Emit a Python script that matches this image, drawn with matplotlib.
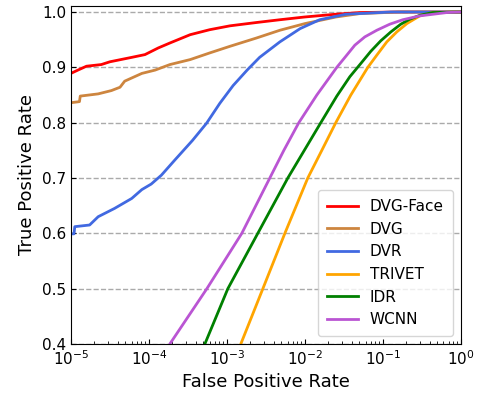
import matplotlib
matplotlib.use("Agg")
import matplotlib.pyplot as plt
import numpy as np

# ROC curves (log10 FPR, TPR)
dvgface_logfpr = [-5.0, -4.91, -4.80, -4.61, -4.50, -4.22, -4.05, -3.88, -3.73, -3.47, -3.22,
                  -2.96, -2.62, -2.32, -2.0, -1.6, -1.3, -0.8, 0.0]
dvgface_tpr = [0.889, 0.895, 0.902, 0.905, 0.910, 0.918, 0.923, 0.935, 0.944, 0.959, 0.968,
               0.975, 0.981, 0.986, 0.991, 0.996, 0.999, 1.0, 1.0]

dvg_logfpr = [-5.0, -4.89, -4.88, -4.65, -4.48, -4.37, -4.31, -4.09, -3.92, -3.73, -3.47, -3.22,
              -2.96, -2.62, -2.32, -2.0, -1.6, -1.3, -0.8, 0.0]
dvg_tpr = [0.836, 0.838, 0.848, 0.852, 0.858, 0.864, 0.875, 0.889, 0.895, 0.905, 0.914, 0.926,
           0.938, 0.953, 0.967, 0.979, 0.991, 0.997, 1.0, 1.0]

dvr_logfpr = [-5.0, -4.96, -4.95, -4.76, -4.65, -4.44, -4.22, -4.09, -3.97, -3.84, -3.67, -3.44,
              -3.26, -3.09, -2.92, -2.74, -2.58, -2.32, -2.06, -1.81, -1.47, -0.9, 0.0]
dvr_tpr = [0.599, 0.599, 0.612, 0.615, 0.630, 0.645, 0.663, 0.679, 0.689, 0.705, 0.732, 0.768,
           0.799, 0.835, 0.867, 0.895, 0.918, 0.946, 0.970, 0.986, 0.996, 1.0, 1.0]

trivet_logfpr = [-2.84, -2.821, -2.538, -2.256, -1.962, -1.782, -1.603, -1.410, -1.192, -1.077,
                 -0.949, -0.821, -0.692, -0.526, -0.359, 0.0]
trivet_tpr = [0.39, 0.400, 0.500, 0.600, 0.700, 0.750, 0.800, 0.850, 0.900, 0.922,
              0.946, 0.964, 0.979, 0.993, 0.999, 1.0]

idr_logfpr = [-3.30, -3.282, -2.987, -2.603, -2.218, -1.795, -1.590, -1.423, -1.282, -1.154,
              -1.026, -0.897, -0.769, -0.654, -0.526, -0.359, 0.0]
idr_tpr = [0.39, 0.400, 0.500, 0.600, 0.700, 0.800, 0.848, 0.883, 0.907, 0.929,
           0.948, 0.964, 0.978, 0.987, 0.994, 0.999, 1.0]

wcnn_logfpr = [-3.75, -3.731, -3.256, -2.808, -2.449, -2.269, -2.077, -1.846, -1.590, -1.474,
               -1.359, -1.231, -1.077, -0.910, -0.744, -0.526, -0.179, 0.0]
wcnn_tpr = [0.39, 0.400, 0.500, 0.600, 0.700, 0.750, 0.800, 0.850, 0.900, 0.920,
            0.940, 0.955, 0.967, 0.978, 0.986, 0.993, 0.999, 1.0]

series = [
    ("DVG-Face", dvgface_logfpr, dvgface_tpr, "red"),
    ("DVG", dvg_logfpr, dvg_tpr, "peru"),
    ("DVR", dvr_logfpr, dvr_tpr, "royalblue"),
    ("TRIVET", trivet_logfpr, trivet_tpr, "orange"),
    ("IDR", idr_logfpr, idr_tpr, "green"),
    ("WCNN", wcnn_logfpr, wcnn_tpr, "mediumorchid"),
]

fig, ax = plt.subplots(figsize=(4.79, 3.94), dpi=100)
fig.subplots_adjust(left=0.148, right=0.962, top=0.985, bottom=0.127)

for name, lx, ty, col in series:
    ax.plot(10 ** np.array(lx), ty, color=col, linewidth=2, label=name)

ax.set_xscale("log")
ax.set_xlim(1e-5, 1)
ax.set_ylim(0.4, 1.011)
ax.set_yticks([0.4, 0.5, 0.6, 0.7, 0.8, 0.9, 1.0])
ax.yaxis.grid(True, linestyle="--", color="#aaaaaa", linewidth=1)
ax.tick_params(which="both", direction="in", labelsize=11)
ax.set_xlabel("False Positive Rate", fontsize=13)
ax.set_ylabel("True Positive Rate", fontsize=13)
ax.legend(loc="lower right", fontsize=11, borderpad=0.6, labelspacing=0.5)

fig.savefig("out.png", dpi=100)
